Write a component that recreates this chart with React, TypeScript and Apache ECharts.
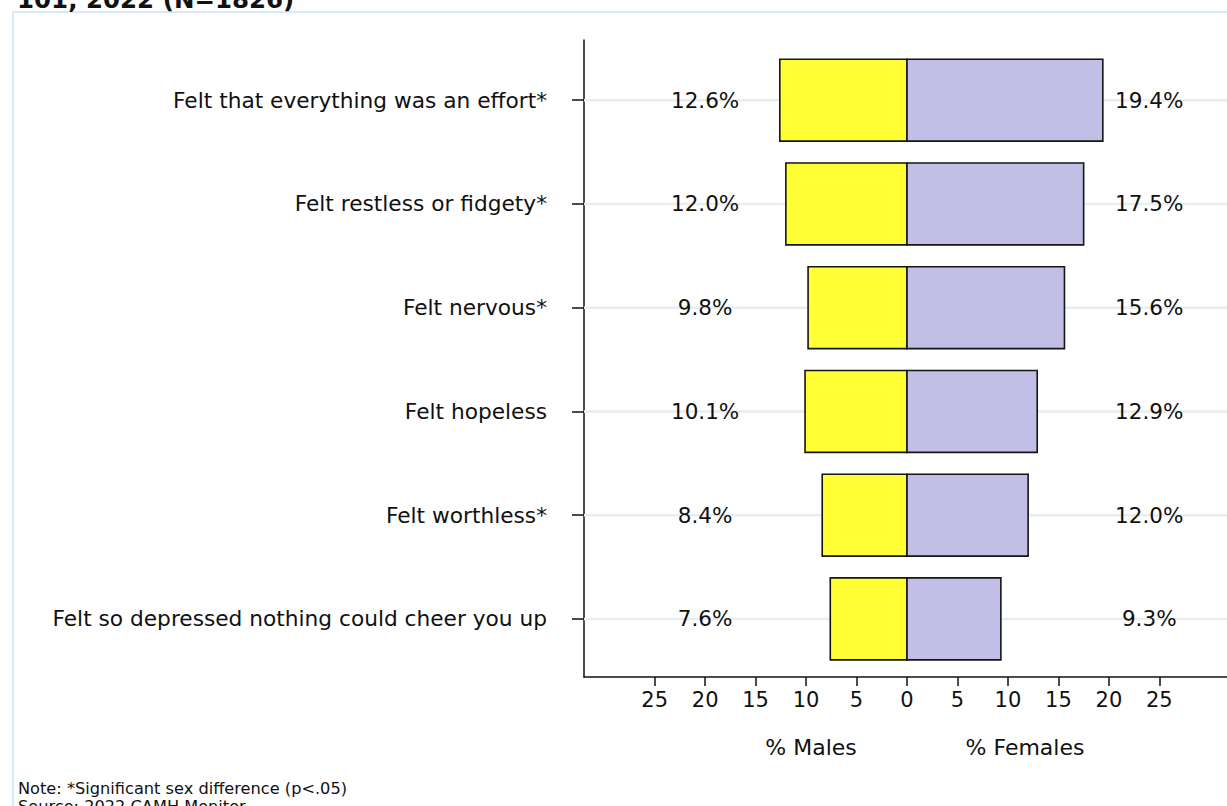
import React, { useEffect, useRef } from "react";
import * as echarts from "echarts";

const CATEGORIES = [
  "Felt that everything was an effort*",
  "Felt restless or fidgety*",
  "Felt nervous*",
  "Felt hopeless",
  "Felt worthless*",
  "Felt so depressed nothing could cheer you up",
];
const MALES = [12.6, 12.0, 9.8, 10.1, 8.4, 7.6];
const FEMALES = [19.4, 17.5, 15.6, 12.9, 12.0, 9.3];
const X_TICKS = [-25, -20, -15, -10, -5, 0, 5, 10, 15, 20, 25];

const FONT = '"DejaVu Sans", "Liberation Sans", Arial, sans-serif';
const MALE_LABEL_X = -20;
const FEMALE_LABEL_X = 24;
const BAR_H = 0.79;
const N = CATEGORIES.length;
const ROWS = CATEGORIES.map((_, i) => N - i);

export default function App() {
  const ref = useRef<HTMLDivElement>(null);
  useEffect(() => {
    if (!ref.current) return;
    const chart = echarts.init(ref.current, null, { renderer: "svg" });

    const makeRender = (fill: string, drawGrid: boolean) => (params: any, api: any) => {
      const v = api.value(0);
      const y = api.value(1);
      const raw = api.value(2);
      const p0 = api.coord([0, y]);
      const p1 = api.coord([v, y]);
      const h = api.size([0, BAR_H])[1];
      const cs = params.coordSys;
      const lp = api.coord([v < 0 ? MALE_LABEL_X : FEMALE_LABEL_X, y]);
      const children: any[] = [];
      if (drawGrid) {
        children.push({
          type: "line",
          shape: { x1: cs.x, y1: p0[1], x2: cs.x + cs.width, y2: p0[1] },
          style: { stroke: "#e6eef1", lineWidth: 2.5 },
        });
      }
      children.push({
        type: "rect",
        shape: {
          x: Math.min(p0[0], p1[0]),
          y: p0[1] - h / 2,
          width: Math.abs(p1[0] - p0[0]),
          height: h,
        },
        style: { fill, stroke: "#151515", lineWidth: 1.6 },
      });
      children.push({
        type: "text",
        style: {
          text: Number(raw).toFixed(1) + "%",
          x: lp[0],
          y: lp[1],
          align: "center",
          verticalAlign: "middle",
          fontSize: 21.5,
          fontFamily: FONT,
          fill: "#111",
        },
      });
      return { type: "group", children };
    };

    chart.setOption({
      animation: false,
      backgroundColor: "#ffffff",
      grid: {
        left: 584,
        top: 40,
        width: 646,
        height: 637,
        containLabel: false,
        outerBoundsMode: "none",
      },
      xAxis: {
        type: "value",
        min: -32,
        max: 32,
        axisLine: { show: true, onZero: false, lineStyle: { color: "#111", width: 1.5 } },
        axisTick: { show: true, customValues: X_TICKS, length: 9, lineStyle: { color: "#111", width: 1.5 } },
        axisLabel: {
          customValues: X_TICKS,
          formatter: (v: number) => String(Math.abs(v)),
          fontSize: 21,
          fontFamily: FONT,
          color: "#111",
          margin: 12,
        },
        splitLine: { show: false },
      },
      yAxis: {
        type: "value",
        min: 0.44,
        max: 6.58,
        axisLine: { show: true, onZero: false, lineStyle: { color: "#111", width: 1.5 } },
        axisTick: { show: true, customValues: ROWS, length: 12, lineStyle: { color: "#111", width: 1.5 } },
        axisLabel: {
          customValues: ROWS,
          formatter: (v: number) => CATEGORIES[N - Math.round(v)] ?? "",
          fontSize: 21.7,
          fontFamily: FONT,
          color: "#111",
          margin: 37,
        },
        splitLine: { show: false },
      },
      series: [
        {
          type: "custom",
          name: "% Males",
          renderItem: makeRender("#ffff33", true),
          data: MALES.map((v, i) => [-v, N - i, v]),
          clip: false,
        },
        {
          type: "custom",
          name: "% Females",
          renderItem: makeRender("#c1bfe5", false),
          data: FEMALES.map((v, i) => [v, N - i, v]),
          clip: false,
        },
      ],
      graphic: [
        {
          type: "rect",
          shape: { x: 13, y: 12, width: 1400, height: 1000 },
          style: { fill: "none", stroke: "#dbe9f4", lineWidth: 2 },
          z: 0,
        },
        {
          type: "text",
          x: 17,
          y: -1,
          style: {
            text: "101, 2022 (N=1826)",
            fontSize: 24.5,
            fontWeight: "bold",
            fontFamily: FONT,
            fill: "#111",
            verticalAlign: "middle",
          },
        },
        {
          type: "text",
          x: 811,
          y: 747,
          style: { text: "% Males", fontSize: 22, fontFamily: FONT, fill: "#111", align: "center", verticalAlign: "middle" },
        },
        {
          type: "text",
          x: 1025,
          y: 747,
          style: { text: "% Females", fontSize: 22, fontFamily: FONT, fill: "#111", align: "center", verticalAlign: "middle" },
        },
        {
          type: "text",
          x: 18,
          y: 788,
          style: {
            text: "Note: *Significant sex difference (p<.05)",
            fontSize: 16.2,
            fontFamily: FONT,
            fill: "#111",
            verticalAlign: "middle",
          },
        },
        {
          type: "text",
          x: 18,
          y: 806,
          style: {
            text: "Source: 2022 CAMH Monitor",
            fontSize: 16.2,
            fontFamily: FONT,
            fill: "#111",
            verticalAlign: "middle",
          },
        },
      ],
    });
    return () => chart.dispose();
  }, []);
  return (
    <div
      ref={ref}
      style={{ position: "absolute", left: 0, top: 0, width: 1227, height: 806 }}
    />
  );
}
